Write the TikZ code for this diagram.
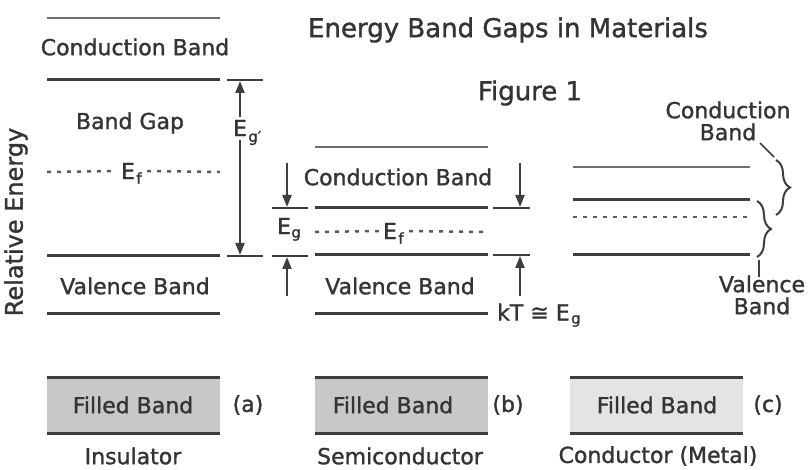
\documentclass[tikz,border=0pt]{standalone}
\usepackage{fontspec}
\setmainfont{DejaVu Sans}[FakeBold=1.3]
\usepackage{tikz}
\usetikzlibrary{arrows.meta,decorations.pathreplacing}
\definecolor{inkgray}{RGB}{52,52,52}
\definecolor{bandgray}{RGB}{62,62,62}
\definecolor{fillgray}{RGB}{200,200,200}
\definecolor{lightfill}{RGB}{228,228,228}

\begin{document}
\begin{tikzpicture}[x=1pt, y=-1pt,
    band/.style={line width=3pt, bandgray},
    thinband/.style={line width=2pt, bandgray!75},
    fermi/.style={line width=2.5pt, bandgray!85, dash pattern=on 4pt off 6pt},
    tickline/.style={line width=2pt, bandgray},
    gaparrow/.style={line width=2pt, bandgray, -{Triangle[length=12pt,width=9pt]}},
    leader/.style={line width=1.5pt, bandgray},
    brace/.style={line width=2pt, bandgray, decorate, decoration={brace, amplitude=14pt}},
    lbl/.style={font=\fontsize{22}{22}\selectfont, inkgray, inner sep=0pt},
    sub/.style={font=\fontsize{15}{15}\selectfont, inkgray, inner sep=0pt, anchor=west}]
  \useasboundingbox (0,0) rectangle (808,470);

  % titles
  \node (title) at (508,30) [font=\fontsize{26}{26}\selectfont, inkgray] {Energy Band Gaps in Materials};
  \node (fig) at (530,93) [font=\fontsize{26}{26}\selectfont, inkgray] {Figure 1};
  \node (axis) at (16,222) [lbl, rotate=90, font=\fontsize{24}{24}\selectfont] {Relative Energy};

  % (a) insulator
  \draw[thinband] (47,18) -- (220,18);
  \node (cbA) at (135,47) [lbl] {Conduction Band};
  \draw[band] (47,80) -- (220,80);
  \node (gapA) at (130,123) [lbl] {Band Gap};
  \node (efA) at (128,171) [lbl] {E};
  \node at ([xshift=1pt,yshift=-7pt]efA.east) [sub] {f};
  \draw[fermi] (47,172) -- ([xshift=-4pt]efA.west);
  \draw[fermi] ([xshift=12pt]efA.east) -- (220,172);
  \draw[tickline] (227,80) -- (263,80);
  \draw[tickline] (227,256) -- (263,256);
  \node (egA) at (240,128) [lbl] {E};
  \node at ([xshift=1pt,yshift=-10pt]egA.east) [sub] {g′};
  \coordinate (topA) at (240,81);
  \coordinate (botA) at (240,255);
  \draw[gaparrow] ([yshift=3pt]egA.north) -- (topA);
  \draw[gaparrow] ([yshift=-4pt]egA.south) -- (botA);
  \draw[band] (47,256) -- (220,256);
  \node (vbA) at (135,286) [lbl] {Valence Band};
  \draw[band] (47,313) -- (220,313);
  \fill[fillgray] (47,377) rectangle (220,432);
  \draw[band] (47,377) -- (220,377);
  \draw[band] (47,433) -- (220,433);
  \node (fbA) at (133,405) [lbl] {Filled Band};
  \node (tagA) at (248,405) [lbl] {(a)};
  \node (nameA) at (133,456) [lbl] {Insulator};

  % (b) semiconductor
  \draw[thinband] (315,147) -- (488,147);
  \node (cbB) at (398,177) [lbl] {Conduction Band};
  \draw[band] (315,208) -- (488,208);
  \draw[tickline] (272,208) -- (308,208);
  \draw[tickline] (493,208) -- (530,208);
  \draw[tickline] (272,256) -- (308,256);
  \draw[tickline] (493,255) -- (530,255);
  \node (egB) at (284,226) [lbl] {E};
  \node at ([xshift=0pt,yshift=-9pt]egB.east) [sub] {g};
  \node (efB) at (390,231) [lbl] {E};
  \node at ([xshift=1pt,yshift=-7pt]efB.east) [sub] {f};
  \draw[fermi] (315,232) -- ([xshift=-4pt]efB.west);
  \draw[fermi] ([xshift=12pt]efB.east) -- (488,232);
  \coordinate (inLB) at (287,163);  \coordinate (tipLB) at (287,207);
  \coordinate (outLB) at (287,296); \coordinate (topLB) at (287,257);
  \coordinate (inRB) at (520,163);  \coordinate (tipRB) at (520,207);
  \coordinate (outRB) at (520,296); \coordinate (topRB) at (520,256);
  \draw[gaparrow] (inLB) -- (tipLB);
  \draw[gaparrow] (outLB) -- (topLB);
  \draw[gaparrow] (inRB) -- (tipRB);
  \draw[gaparrow] (outRB) -- (topRB);
  \draw[band] (315,255) -- (488,255);
  \node (vbB) at (400,286) [lbl] {Valence Band};
  \draw[band] (315,313) -- (488,313);
  \node (ktB) at (497,312) [lbl, anchor=west] {kT ≅ E};
  \node at ([xshift=1pt,yshift=-9pt]ktB.east) [sub] {g};
  \fill[fillgray] (315,378) rectangle (488,432);
  \draw[band] (315,377) -- (488,377);
  \draw[band] (315,433) -- (488,433);
  \node (fbB) at (393,405) [lbl] {Filled Band};
  \node (tagB) at (508,405) [lbl] {(b)};
  \node (nameB) at (400,456) [lbl] {Semiconductor};

  % (c) conductor
  \draw[thinband] (573,167) -- (750,167);
  \draw[band] (573,200) -- (750,200);
  \draw[fermi] (573,217) -- (750,217);
  \draw[band] (573,255) -- (750,255);
  \draw[brace] (776,160) -- (776,215);
  \draw[brace] (757,201) -- (757,257);
  \node (cbC) at (728,121) [lbl, align=center] {Conduction\\Band};
  \coordinate (cbFrom) at (760,143); \coordinate (cbTo) at (774,157);
  \draw[leader] (cbFrom) -- (cbTo);
  \node (vbC) at (762,295) [lbl, align=center] {Valence\\Band};
  \coordinate (vbFrom) at (759,260); \coordinate (vbTo) at (759,277);
  \draw[leader] (vbFrom) -- (vbTo);
  \fill[lightfill] (570,378) rectangle (743,432);
  \draw[band] (570,377) -- (743,377);
  \draw[band] (570,433) -- (743,433);
  \node (fbC) at (657,405) [lbl] {Filled Band};
  \node (tagC) at (768,405) [lbl] {(c)};
  \node (nameC) at (658,456) [lbl] {Conductor (Metal)};
\end{tikzpicture}
\end{document}
